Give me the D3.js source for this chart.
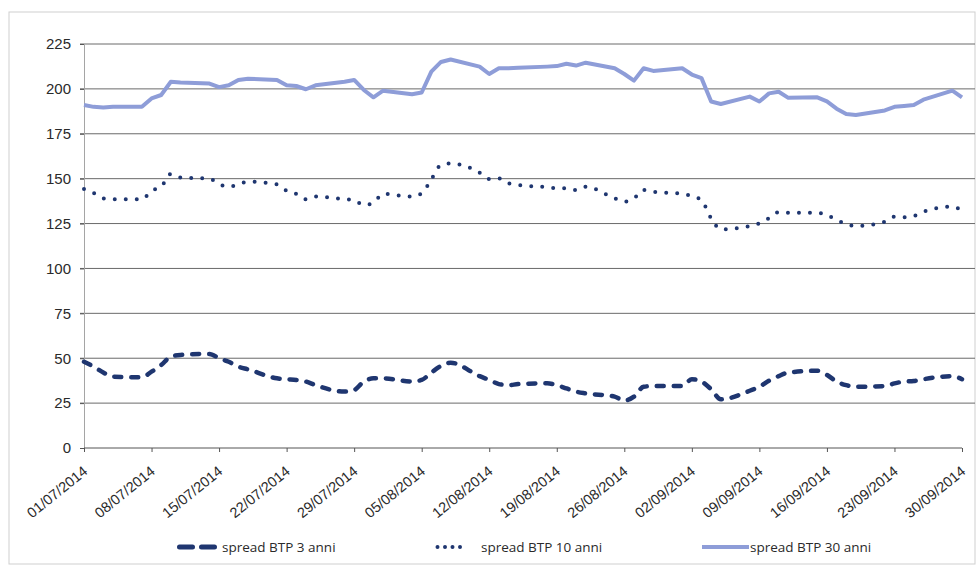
<!DOCTYPE html>
<html>
<head>
<meta charset="utf-8">
<script src="https://cdn.jsdelivr.net/npm/d3@7"></script>
<style>
  body { margin: 0; background: #fff; }
  svg { font-family: "Open Sans", "DejaVu Sans", sans-serif; }
</style>
</head>
<body>
<div id="chart"></div>
<script>
// business days, Jul - Sep 2014
var dates = [
  "01/07/2014","02/07/2014","03/07/2014","04/07/2014","07/07/2014","08/07/2014","09/07/2014","10/07/2014","11/07/2014",
  "14/07/2014","15/07/2014","16/07/2014","17/07/2014","18/07/2014","21/07/2014","22/07/2014","23/07/2014","24/07/2014","25/07/2014",
  "28/07/2014","29/07/2014","30/07/2014","31/07/2014","01/08/2014","04/08/2014","05/08/2014","06/08/2014","07/08/2014","08/08/2014",
  "11/08/2014","12/08/2014","13/08/2014","14/08/2014","15/08/2014","18/08/2014","19/08/2014","20/08/2014","21/08/2014","22/08/2014",
  "25/08/2014","26/08/2014","27/08/2014","28/08/2014","29/08/2014","01/09/2014","02/09/2014","03/09/2014","04/09/2014","05/09/2014",
  "08/09/2014","09/09/2014","10/09/2014","11/09/2014","12/09/2014","15/09/2014","16/09/2014","17/09/2014","18/09/2014","19/09/2014",
  "22/09/2014","23/09/2014","24/09/2014","25/09/2014","26/09/2014","29/09/2014","30/09/2014"
];

var spread3 = [
  48, 45.3, 42, 39.7, 39.4, 42.5, 46.2, 50.9, 51.8,
  52.4, 50, 48, 45.3, 43.8, 38.8, 38.3, 37.9, 37, 35,
  31.4, 32.3, 37, 38.8, 38.8, 37, 37.9, 42, 45.7, 47.5,
  40, 37.9, 35.6, 35, 35.6, 36, 35, 33.2, 31.4, 30.4,
  28.6, 26.4, 28.6, 34.1, 34.5, 34.5, 38.3, 37, 32.7, 27.1,
  31.9, 34.1, 37.5, 40, 42, 43, 40.7, 37, 35, 34.1,
  34.5, 36, 37, 37.3, 38.3, 40, 38.3
];

var spread10 = [
  144.2, 142, 139, 138.5, 138.5, 143.3, 145.5, 152.6, 150.7,
  150, 147, 145.5, 146.9, 148.3, 146.9, 143.3, 141.5, 138.5, 140,
  138.5, 138, 135.3, 136.6, 141.5, 140, 141.8, 149.6, 157.6, 158.5,
  153.3, 149.8, 150.2, 147.4, 146.5, 145.2, 144.6, 144.6, 143.7, 145.5,
  139, 137.2, 139, 143.7, 142.7, 141.5, 140.3, 138, 127.9, 121.8,
  123.6, 125.1, 128, 131.4, 131, 131, 129.8, 127, 124.7, 123.6,
  126, 128.8, 128.5, 129.2, 131.6, 134.4, 132.2
];

var spread30 = [
  191, 190, 189.7, 190, 190, 194.7, 196.6, 204, 203.6,
  203, 201, 202, 205, 205.7, 205, 202, 201.6, 199.8, 202,
  204, 205, 199.4, 195.3, 199, 197, 198, 209.6, 215, 216.4,
  212.4, 208.3, 211.5, 211.5, 211.8, 212.4, 212.7, 214, 213, 214.6,
  211.5, 208.3, 204.6, 211.5, 210, 211.5, 208, 206, 193, 191.6,
  195.7, 193, 197.5, 198.4, 195, 195.3, 193, 189, 186, 185.5,
  188, 190, 190.5, 191, 194, 199, 195.3
];

var yTicks = [0, 25, 50, 75, 100, 125, 150, 175, 200, 225];
var xTicks = ["01/07/2014","08/07/2014","15/07/2014","22/07/2014","29/07/2014","05/08/2014","12/08/2014",
  "19/08/2014","26/08/2014","02/09/2014","09/09/2014","16/09/2014","23/09/2014","30/09/2014"];
var seriesNames = ["spread BTP 3 anni", "spread BTP 10 anni", "spread BTP 30 anni"];

var W = 980, H = 576;
var margin = { top: 44, right: 18, bottom: 128, left: 84 };

var parse = d3.timeParse("%d/%m/%Y");
var fmt = d3.timeFormat("%d/%m/%Y");

var svg = d3.select("#chart").append("svg")
  .attr("width", W)
  .attr("height", H);

// faint frame of the scanned chart
svg.append("rect")
  .attr("x", 9).attr("y", 12)
  .attr("width", 966).attr("height", 552)
  .attr("fill", "none")
  .attr("stroke", "#cfcfcf")
  .attr("stroke-width", 1);

var x = d3.scaleTime()
  .domain([parse(dates[0]), parse(dates[dates.length - 1])])
  .range([margin.left, 962]);

var y = d3.scaleLinear()
  .domain([0, 225])
  .range([H - margin.bottom, margin.top]);

// gridlines
svg.append("g")
  .selectAll("line")
  .data(yTicks.filter(function (d) { return d > 0; }))
  .enter()
  .append("line")
  .attr("x1", margin.left - 4)
  .attr("x2", 975)
  .attr("y1", function (d) { return y(d); })
  .attr("y2", function (d) { return y(d); })
  .attr("stroke", "#6a6a6a")
  .attr("stroke-width", 1);

// y axis
var yaxis = svg.append("g")
  .attr("transform", "translate(" + margin.left + ",0)")
  .call(d3.axisLeft(y).tickValues(yTicks).tickSize(4).tickPadding(9));
yaxis.select(".domain").attr("stroke", "#a5a5a5");
yaxis.selectAll(".tick line").attr("stroke", "#555");
yaxis.selectAll("text")
  .attr("fill", "#2a2a2a")
  .style("font-size", "15px");

// x axis
var xaxis = svg.append("g")
  .attr("transform", "translate(0," + y(0) + ")")
  .call(d3.axisBottom(x)
    .tickValues(xTicks.map(parse))
    .tickFormat(fmt)
    .tickSize(4));
xaxis.select(".domain").attr("stroke", "#555").attr("d", "M" + margin.left + ",0H962");
xaxis.selectAll(".tick line").attr("stroke", "#555");
xaxis.selectAll("text")
  .attr("fill", "#2a2a2a")
  .style("font-size", "14.5px")
  .style("text-anchor", "end")
  .attr("x", 0)
  .attr("y", 0)
  .attr("dy", 0)
  .attr("transform", "translate(4,25) rotate(-39)");

var line = function (vals, curve) {
  return d3.line()
    .x(function (d, i) { return x(parse(dates[i])); })
    .y(function (d) { return y(d); })
    .curve(curve)(vals);
};

var dark = "#1f3670", light = "#8e9dd8";

svg.append("path")
  .attr("d", line(spread30, d3.curveLinear))
  .attr("fill", "none")
  .attr("stroke", light)
  .attr("stroke-width", 4)
  .attr("stroke-linejoin", "round");

svg.append("path")
  .attr("d", line(spread10, d3.curveMonotoneX))
  .attr("fill", "none")
  .attr("stroke", dark)
  .attr("stroke-width", 4)
  .attr("stroke-linecap", "round")
  .attr("stroke-dasharray", "0,11");

svg.append("path")
  .attr("d", line(spread3, d3.curveMonotoneX))
  .attr("fill", "none")
  .attr("stroke", dark)
  .attr("stroke-width", 4.5)
  .attr("stroke-linecap", "round")
  .attr("stroke-dasharray", "7,10");

// legend
var legend = [
  { name: seriesNames[0], x1: 179.5, x2: 214.5, tx: 222, color: dark, dash: "13,9", cap: "round", w: 5 },
  { name: seriesNames[1], x1: 437.5, x2: 460.5, tx: 481, color: dark, dash: "0,7.5", cap: "round", w: 4 },
  { name: seriesNames[2], x1: 702, x2: 749, tx: 750, color: light, dash: null, cap: "butt", w: 4 }
];
var lg = svg.append("g");
legend.forEach(function (d) {
  lg.append("line")
    .attr("x1", d.x1).attr("x2", d.x2)
    .attr("y1", 547).attr("y2", 547)
    .attr("stroke", d.color)
    .attr("stroke-width", d.w)
    .attr("stroke-linecap", d.cap)
    .attr("stroke-dasharray", d.dash);
  lg.append("text")
    .attr("x", d.tx)
    .attr("y", 552)
    .attr("fill", "#2a2a2a")
    .style("font-size", "13.5px")
    .text(d.name);
});
</script>
</body>
</html>
